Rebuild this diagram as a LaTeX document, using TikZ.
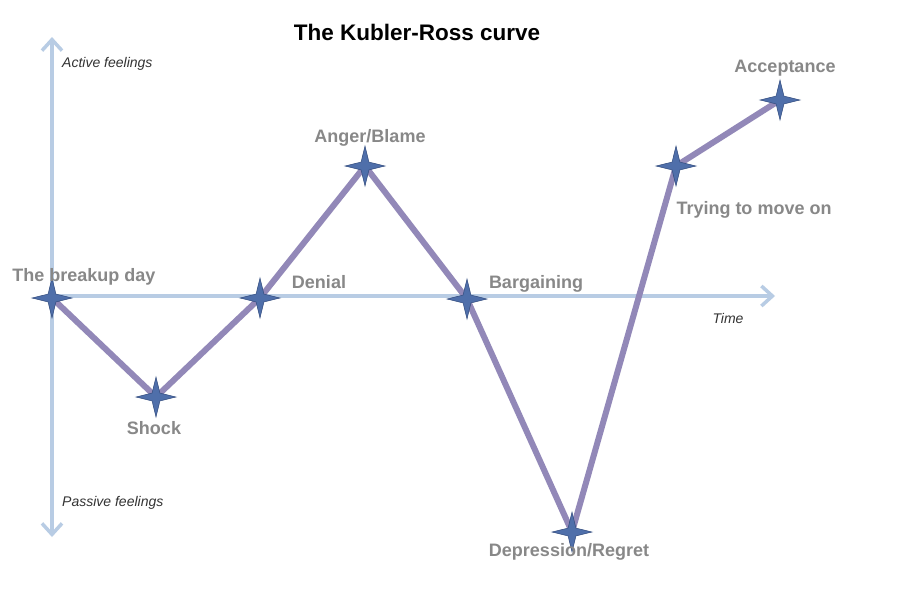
\documentclass[tikz,border=0pt]{standalone}
\usepackage{fontspec}
\setmainfont{Liberation Sans}
\usetikzlibrary{arrows.meta,shapes.geometric}
\definecolor{axisblue}{RGB}{184,204,228}
\definecolor{curvepurple}{RGB}{146,136,184}
\definecolor{starblue}{RGB}{79,111,170}
\definecolor{stardark}{RGB}{50,75,125}
\definecolor{labelgray}{RGB}{136,136,136}
\tikzset{
  axisline/.style={draw=axisblue,line width=3.5pt,-{Straight Barb[length=11pt,width=20pt,line width=3.5pt]}},
  curveline/.style={draw=curvepurple,line width=6pt,line join=round},
  starmark/.style={star,star points=4,star point ratio=3.6,minimum size=40pt,inner sep=0pt,fill=starblue,draw=stardark,line width=0.5pt},
  stagelabel/.style={text=labelgray,font=\bfseries\fontsize{18}{20}\selectfont,inner sep=0pt},
  axislabel/.style={text=black!80,font=\itshape\fontsize{14}{16}\selectfont,inner sep=0pt},
  titlelabel/.style={text=black,font=\bfseries\fontsize{22.5}{26}\selectfont,inner sep=0pt}
}
\begin{document}
\begin{tikzpicture}[x=1pt,y=-1pt]
\useasboundingbox (0,0) rectangle (900,598);
\fill[white] (0,0) rectangle (900,598);
% axes
\coordinate (vbot) at (52,537);
\coordinate (vtop) at (52,37);
\coordinate (hend) at (775,296);
\coordinate (vmid) at (52,296);
\draw[axisline] (vmid) -- (vtop);
\draw[axisline] (vmid) -- (vbot);
\draw[axisline] (vmid) -- (hend);
% curve points
\coordinate (c1) at (52,298);
\coordinate (c2) at (156,397);
\coordinate (c3) at (260,298);
\coordinate (c4) at (365,166);
\coordinate (c5) at (467,299);
\coordinate (c6) at (572,532);
\coordinate (c7) at (676,166);
\coordinate (c8) at (780,100);
\draw[curveline] (c1) -- (c2) -- (c3) -- (c4) -- (c5) -- (c6) -- (c7) -- (c8);
\foreach \i in {1,...,8} {\node[starmark] (s\i) at (c\i) {};}
% labels
\node[titlelabel] (title) at (417,32) {The Kubler-Ross curve};
\node[axislabel,anchor=west] (active) at (62,64) {Active feelings};
\node[axislabel,anchor=west] (passive) at (62,503) {Passive feelings};
\node[axislabel] (time) at (728,318) {Time};
\node[stagelabel] (l1) at (84,277) {The breakup day};
\node[stagelabel] (l2) at (154,428) {Shock};
\node[stagelabel] (l3) at (319,282) {Denial};
\node[stagelabel] (l4) at (370,138) {Anger/Blame};
\node[stagelabel] (l5) at (536,284) {Bargaining};
\node[stagelabel] (l6) at (569,552) {Depression/Regret};
\node[stagelabel] (l7) at (754,210) {Trying to move on};
\node[stagelabel] (l8) at (785,68) {Acceptance};
\end{tikzpicture}
\end{document}
